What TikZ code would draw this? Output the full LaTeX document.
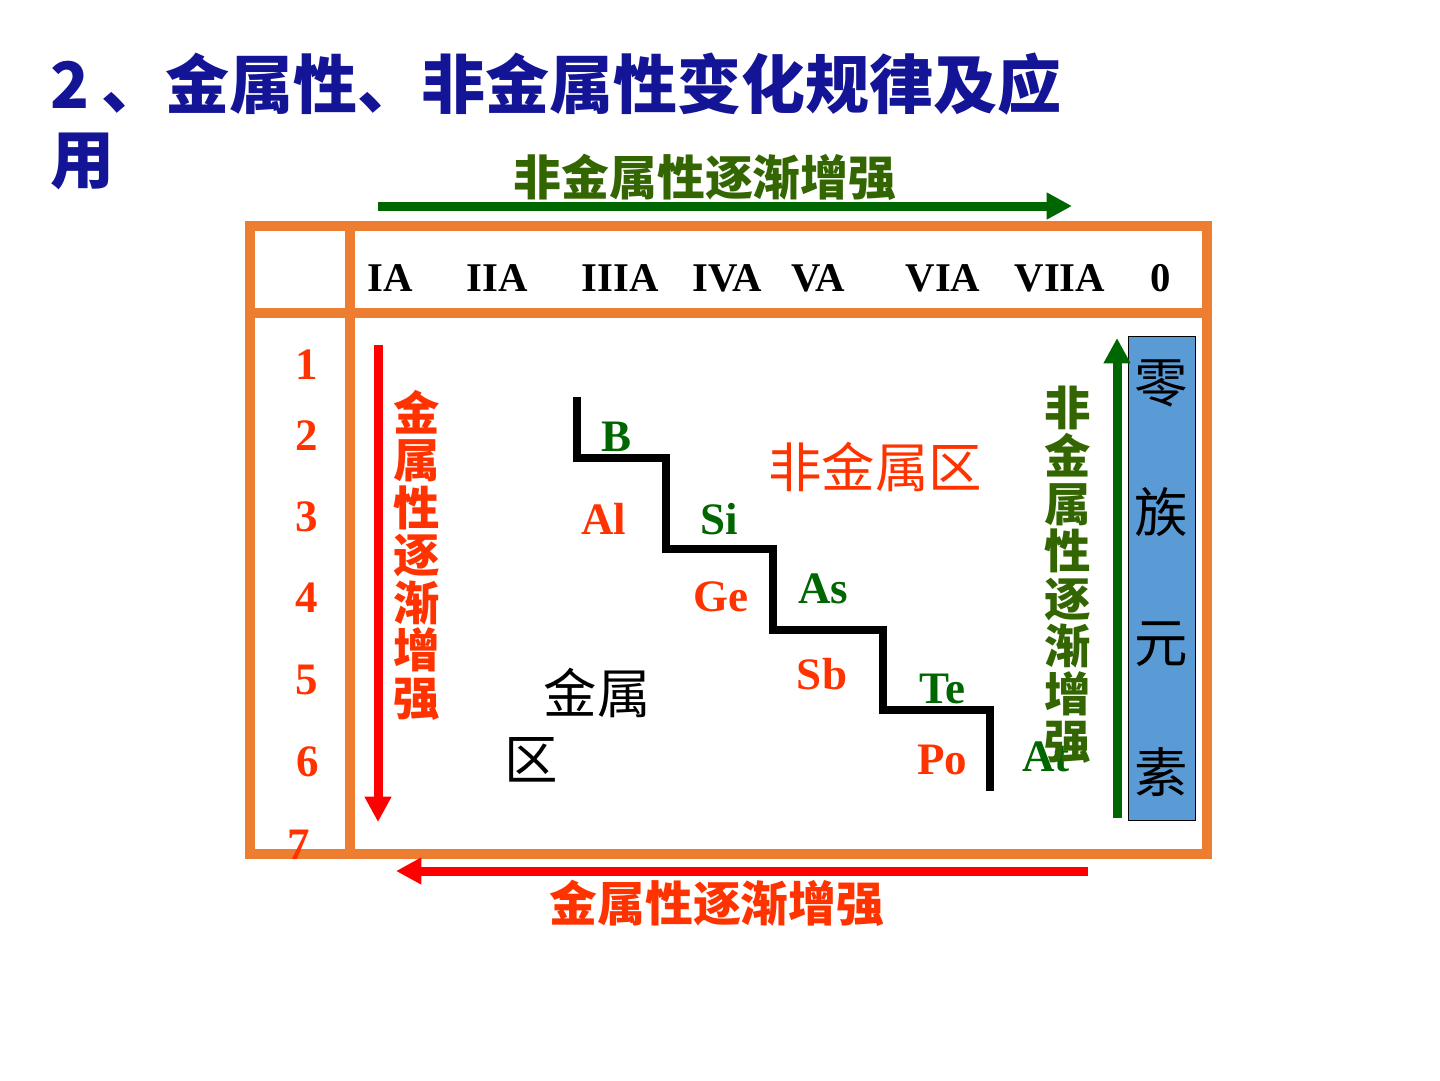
\documentclass[tikz,border=0pt]{standalone}
\usepackage{fontspec}
\setmainfont{Liberation Serif}
\newfontfamily\cjk{Noto Sans CJK SC}
\usetikzlibrary{arrows.meta}
\definecolor{frameorange}{HTML}{ED7D31}
\definecolor{metalred}{HTML}{FF3300}
\definecolor{arrowred}{HTML}{FF0000}
\definecolor{darkgreen}{HTML}{006600}
\definecolor{olivegreen}{HTML}{336600}
\definecolor{titleblue}{RGB}{20,20,150}
\definecolor{zeroblue}{HTML}{5B9BD5}

\begin{document}
\begin{tikzpicture}[
  x=0.025cm,y=-0.025cm,
  frm/.style={draw=frameorange,line width=6.5pt},
  arr/.style={-{Triangle[length=18pt,width=18pt]},line width=6.4pt},
  stair/.style={draw=black,line width=5.7pt},
  elem/.style={font=\bfseries\fontsize{32}{32}\selectfont,inner sep=0pt},
  grp/.style={font=\bfseries\fontsize{29}{29}\selectfont,inner sep=0pt},
  per/.style={font=\bfseries\fontsize{32}{32}\selectfont,text=metalred,inner sep=0pt},
  vtxt/.style={font=\cjk\bfseries\fontsize{33}{33.8}\selectfont,align=center,inner sep=0pt},
  htxt/.style={font=\cjk\bfseries\fontsize{34}{34}\selectfont,inner sep=0pt},
  zone/.style={font=\cjk\fontsize{38}{38}\selectfont,inner sep=0pt}
]
\useasboundingbox (0,0) rectangle (1440,1080);

% title (base is the last line)
\node[anchor=base west,inner sep=0pt,align=left,text=titleblue,
      font=\cjk\bfseries\fontsize{45.5}{53}\selectfont] (title) at (50,183)
  {2\hspace{9pt}、金属性、非金属性变化规律及应\\用};

% table frame
\draw[frm] (250,226) rectangle (1207,854);
\draw[frm] (250,313) -- (1207,313);
\draw[frm] (350,226) -- (350,854);

% group header
\node[grp] (g1) at (390,278) {IA};
\node[grp] (g2) at (497,278) {IIA};
\node[grp] (g3) at (620,278) {IIIA};
\node[grp] (g4) at (727,278) {IVA};
\node[grp] (g5) at (818,278) {VA};
\node[grp] (g6) at (943,278) {VIA};
\node[grp] (g7) at (1060,278) {VIIA};
\node[grp] (g0) at (1161,278) {0};

% periods
\node[per] (p1) at (307,365) {1};
\node[per] (p2) at (307,436) {2};
\node[per] (p3) at (307,517) {3};
\node[per] (p4) at (307,598) {4};
\node[per] (p5) at (307,680) {5};
\node[per] (p6) at (308,762) {6};
\node[per] (p7) at (299,845) {7};

% metal / non-metal border
\coordinate (s0) at (577,397);
\coordinate (s1) at (577,458);
\coordinate (s2) at (666,458);
\coordinate (s3) at (666,549);
\coordinate (s4) at (773,549);
\coordinate (s5) at (773,630);
\coordinate (s6) at (883,630);
\coordinate (s7) at (883,710);
\coordinate (s8) at (990,710);
\coordinate (s9) at (990,791);
\draw[stair] (s0) -- (s1) -- (s2) -- (s3) -- (s4) -- (s5) -- (s6) -- (s7) -- (s8) -- (s9);

% elements
\node[elem,text=darkgreen] (B)  at (616,437) {B};
\node[elem,text=metalred]  (Al) at (604,519) {Al};
\node[elem,text=darkgreen] (Si) at (719,519) {Si};
\node[elem,text=metalred]  (Ge) at (721,597) {Ge};
\node[elem,text=darkgreen] (As) at (823,589) {As};
\node[elem,text=metalred]  (Sb) at (822,674) {Sb};
\node[elem,text=darkgreen] (Te) at (942,689) {Te};
\node[elem,text=metalred]  (Po) at (942,760) {Po};
\node[elem,text=darkgreen] (At) at (1046,757) {At};

\node[zone,text=metalred] (nonmetal) at (875,467) {非金属区};
\node[zone] (metal)  at (597,693) {金属};
\node[zone] (metal2) at (531,760) {区};

% zero group
\node[draw=black,thin,fill=zeroblue,minimum width=47.6pt,minimum height=344pt,
      inner sep=0pt,align=center,font=\cjk\fontsize{38}{92.5}\selectfont] (zero)
  at (1161.5,578) {零\\族\\元\\素};

% trends
\coordinate (ltop) at (378,345);
\coordinate (lbot) at (378,822);
\draw[arr,arrowred] (ltop) -- (lbot);
\node[vtxt,text=metalred] (lmetal) at (417,555) {金\\属\\性\\逐\\渐\\增\\强};

\coordinate (rbot) at (1117,818);
\coordinate (rtop) at (1117,338);
\draw[arr,darkgreen] (rbot) -- (rtop);
\node[vtxt,text=olivegreen] (rnonmetal) at (1068,575) {非\\金\\属\\性\\逐\\渐\\增\\强};

\coordinate (tleft) at (378,206);
\coordinate (tright) at (1072,206);
\draw[arr,darkgreen] (tleft) -- (tright);
\node[htxt,text=olivegreen] (tnonmetal) at (705,177) {非金属性逐渐增强};

\coordinate (bright) at (1088,871);
\coordinate (bleft) at (396,871);
\draw[arr,arrowred] (bright) -- (bleft);
\node[htxt,text=metalred] (bmetal) at (717,903) {金属性逐渐增强};
\end{tikzpicture}
\end{document}
